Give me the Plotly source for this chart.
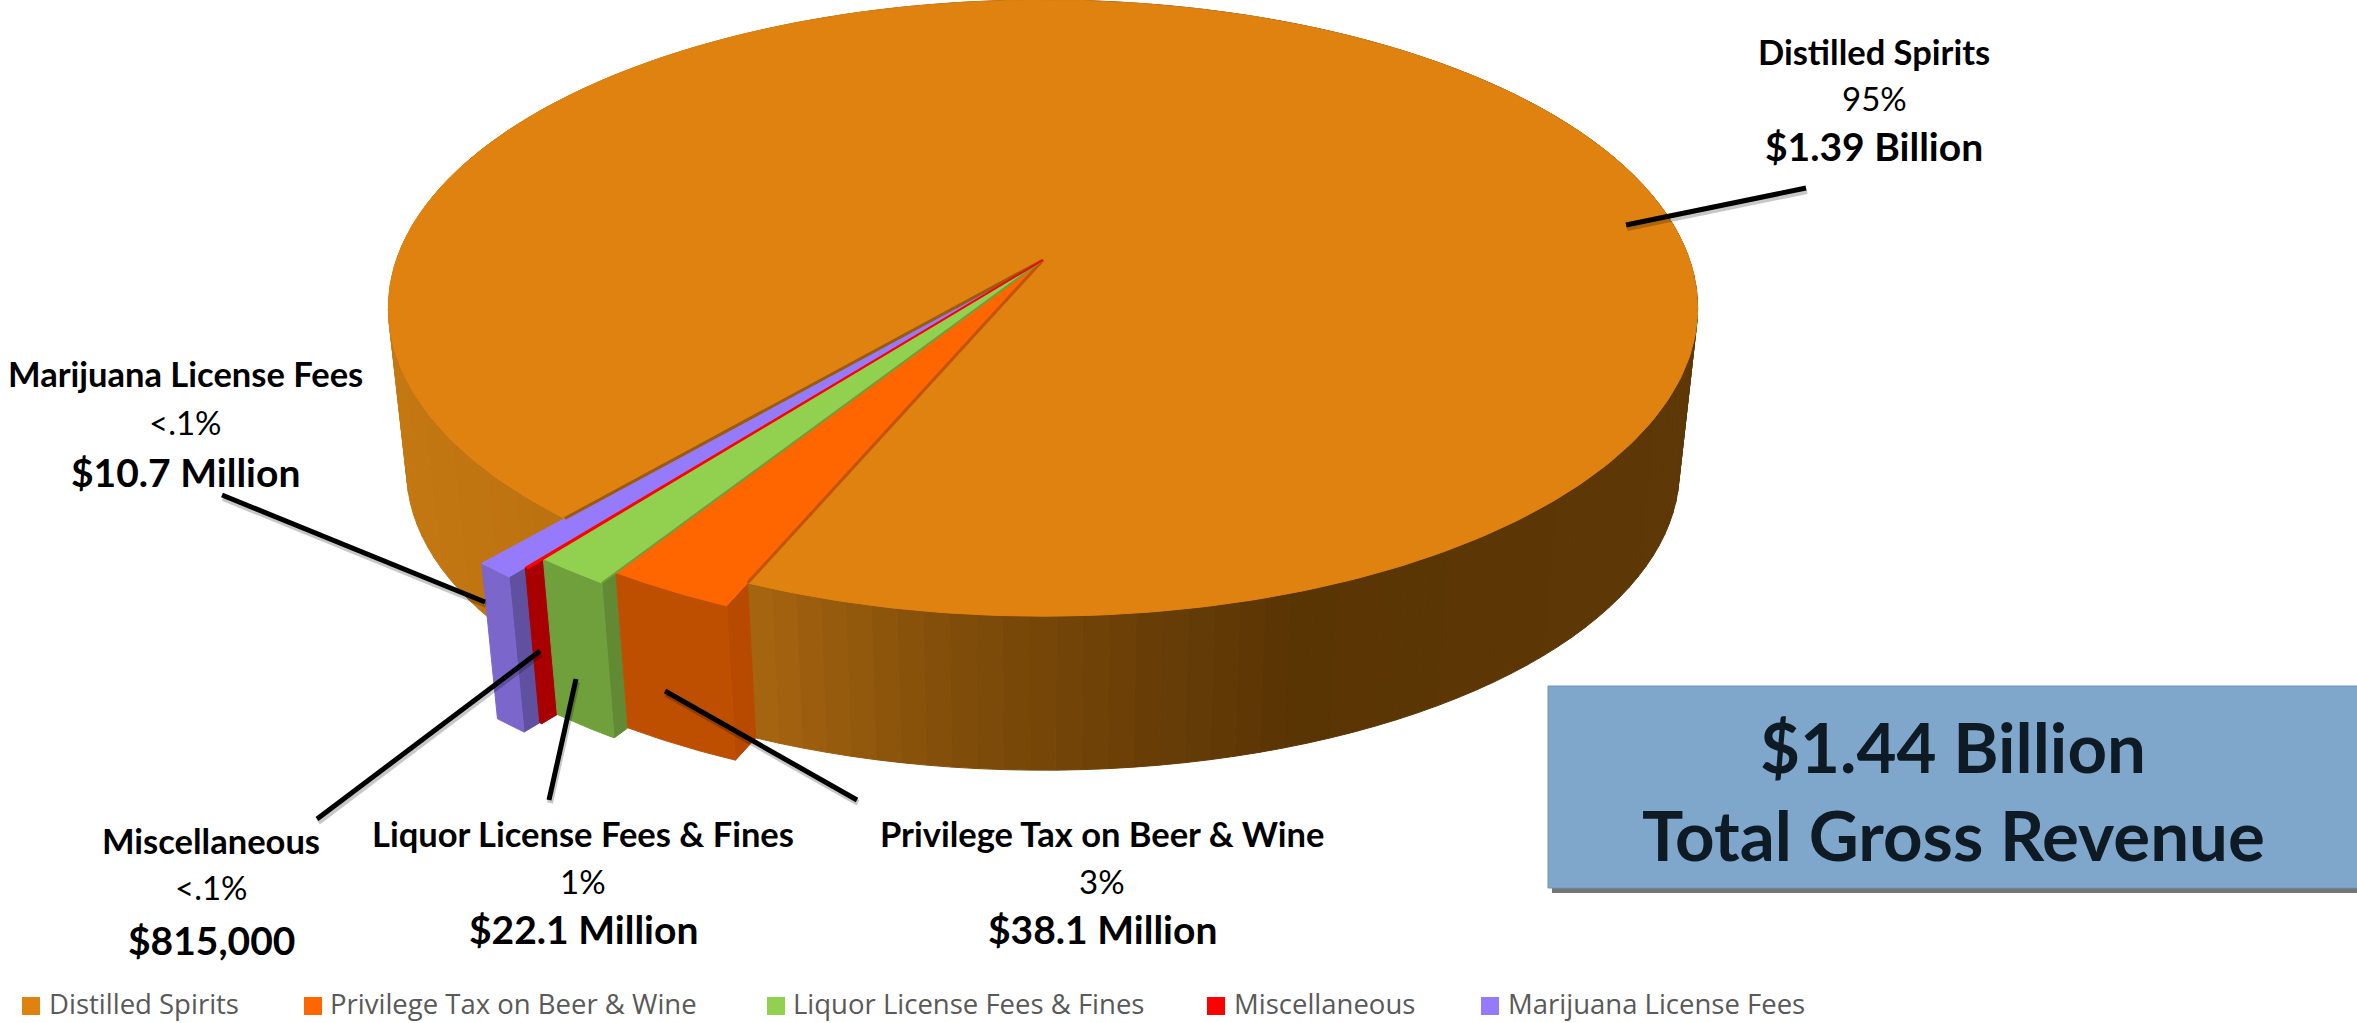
import math
import plotly.graph_objects as go

# ---------- data ----------
categories = ["Distilled Spirits", "Privilege Tax on Beer & Wine", "Liquor License Fees & Fines",
              "Miscellaneous", "Marijuana License Fees"]
revenue_millions = [1390, 38.1, 22.1, 0.815, 10.7]
percent_labels = ["95%", "3%", "1%", "<.1%", "<.1%"]
amount_labels = ["$1.39 Billion", "$38.1 Million", "$22.1 Million", "$815,000", "$10.7 Million"]
total_lines = ["$1.44 Billion", "Total Gross Revenue"]

# ---------- style / geometry ----------
W, H = 2357, 1023
explode = [1.0, 1.06, 1.09, 1.12, 1.15]
top_col = ["#E08210", "#FF6600", "#92D050", "#FF0000", "#957BFB"]
outer_col = [None, "#BF4F00", "#70A03C", "#A80000", "#7B66CC"]
wall_col = [None, "#B84A00", "#628A35", "#A80000", "#5F50A0"]
edge_col = ["#A8600E", "#C05400", "#6F9E3A", "#FF0000", "#7B66CC"]
START_DEG = 229.3
CX, CY_TOP, CY_BOT = 1043, 260, 424
A, B, P, BOT_SCALE = 646.6, 300.6, 0.156, 0.972
FONT = "Lato"


def project(r, deg, lower=False):
    X = r * math.cos(math.radians(deg))
    Y = r * math.sin(math.radians(deg))
    w = 1 + P * Y
    s = BOT_SCALE if lower else 1.0
    cy = CY_BOT if lower else CY_TOP
    return CX + s * A * X / w, cy - s * B * Y / w


def arc(r, a0, a1, lower=False, step=1.0):
    n = max(2, int(abs(a1 - a0) / step) + 2)
    return [project(r, a0 + (a1 - a0) * i / (n - 1), lower) for i in range(n)]


def poly(points, color, line_width=1):
    xs = [p[0] for p in points] + [points[0][0]]
    ys = [p[1] for p in points] + [points[0][1]]
    return go.Scatter(x=xs, y=ys, mode="lines", fill="toself", fillcolor=color,
                      line=dict(color=color, width=line_width), hoverinfo="skip", showlegend=False)


def lerp_hex(stops, x):
    if x <= stops[0][0]:
        return stops[0][1]
    for (x0, c0), (x1, c1) in zip(stops, stops[1:]):
        if x <= x1:
            t = (x - x0) / (x1 - x0)
            a = [int(c0[i:i + 2], 16) for i in (1, 3, 5)]
            b = [int(c1[i:i + 2], 16) for i in (1, 3, 5)]
            return "#%02X%02X%02X" % tuple(round(u + (v - u) * t) for u, v in zip(a, b))
    return stops[-1][1]


rim_stops = [(390, "#C47812"), (560, "#BC7210"), (750, "#A8660F"), (960, "#7F4C0A"),
             (1280, "#5A3504"), (1700, "#5E3806")]

total = sum(revenue_millions)
spans = []
cur = START_DEG
for v in revenue_millions:
    nxt = cur - v / total * 360
    spans.append((cur, nxt))  # clockwise
    cur = nxt

fig = go.Figure()

# rim of the main slice
a0, a1 = spans[0]
n = int(abs(a1 - a0) / 2)
for i in range(n):
    d0 = a0 + (a1 - a0) * i / n
    d1 = a0 + (a1 - a0) * (i + 1) / n
    pts = arc(1, d0, d1) + arc(1, d1, d0, lower=True)
    mx = sum(p[0] for p in pts) / len(pts)
    fig.add_trace(poly(pts, lerp_hex(rim_stops, mx)))

# exploded small slices, far one first
apex_t = (CX, CY_TOP)
for i in (4, 3, 2, 1):
    d0, d1 = spans[i]  # d0 = right edge, d1 = left edge
    r = explode[i]
    r_in = explode[i - 1]
    fig.add_trace(poly([project(r_in, d0), project(r, d0), project(r, d0, True), project(r_in, d0, True)],
                       wall_col[i]))
    fig.add_trace(poly(arc(r, d0, d1, step=0.5) + arc(r, d1, d0, True, step=0.5), outer_col[i]))
    fig.add_trace(poly([apex_t] + arc(r, d0, d1, step=0.5), top_col[i]))

# top of the main slice
fig.add_trace(poly([apex_t] + arc(1, a0, a1), top_col[0]))

# thin darker edges along the slice cuts
for i, (deg, r) in enumerate([(spans[0][0], 1), (spans[0][1], 1)]):
    c0 = project(r, deg)
    fig.add_trace(go.Scatter(x=[CX, c0[0]], y=[CY_TOP, c0[1]], mode="lines",
                             line=dict(color=("#9A5A10" if i == 0 else "#C05400"), width=3),
                             hoverinfo="skip", showlegend=False))
for i in (2, 3):
    c0 = project(explode[i], spans[i][0])
    fig.add_trace(go.Scatter(x=[CX, c0[0]], y=[CY_TOP, c0[1]], mode="lines",
                             line=dict(color=edge_col[i], width=2),
                             hoverinfo="skip", showlegend=False))

# leader lines
leaders = [((1626, 225), (1806, 188)), ((222, 495), (485, 602)), ((540, 651), (317, 819)),
           ((576, 679), (549, 800)), ((665, 691), (857, 800))]
for p0, p1 in leaders:
    fig.add_trace(go.Scatter(x=[p0[0] + 1, p1[0] + 1], y=[p0[1] + 3, p1[1] + 3], mode="lines",
                             line=dict(color="rgba(0,0,0,0.22)", width=6),
                             hoverinfo="skip", showlegend=False))
    fig.add_trace(go.Scatter(x=[p0[0], p1[0]], y=[p0[1], p1[1]], mode="lines",
                             line=dict(color="#000000", width=5),
                             hoverinfo="skip", showlegend=False))

annotations = []


def text(x, y, s, size, bold=False, color="#000000", anchor="center", font=FONT):
    annotations.append(dict(x=x, y=y, xref="x", yref="y", text=f"<b>{s}</b>" if bold else s,
                            showarrow=False, xanchor=anchor, yanchor="middle",
                            font=dict(family=font, size=size, color=color)))


# slice labels: index -> centre x, three line y positions
label_pos = {0: (1874, 51, 98, 146), 4: (185, 373, 422, 472), 3: (211, 840, 887, 940),
             2: (583, 833, 881, 929), 1: (1102, 833, 881, 929)}
for i, (x, y0, y1, y2) in label_pos.items():
    text(x, y0, categories[i].replace("&", "&amp;"), 34.5, bold=True)
    text(x, y1, percent_labels[i].replace("<", "&lt;"), 33)
    text(x, y2, amount_labels[i], 39, bold=True)

# total box
box_shapes = [
    dict(type="rect", xref="x", yref="y", x0=1552, y0=692, x1=2370, y1=893,
         fillcolor="rgba(70,70,70,0.75)", line=dict(width=0), layer="below"),
    dict(type="rect", xref="x", yref="y", x0=1548, y0=686, x1=2370, y1=888,
         fillcolor="#7FA6CB", line=dict(color="#6E94B8", width=1), layer="below"),
]
text(1953, 746, total_lines[0], 69, bold=True, color="#0E1A24")
text(1953, 834, total_lines[1], 69, bold=True, color="#0E1A24")

# legend row
legend_swatch_x = [31, 313, 776, 1216, 1490]
legend_text_x = [47, 328, 791, 1232, 1506]
for i, name in enumerate(categories):
    fig.add_trace(go.Scatter(x=[legend_swatch_x[i]], y=[1006], mode="markers", name=name,
                             marker=dict(symbol="square", size=18, color=top_col[i]),
                             hoverinfo="skip", showlegend=False))
    text(legend_text_x[i], 1003, name.replace("&", "&amp;"), 27.5, color="#595959", anchor="left", font="Open Sans")

fig.update_layout(
    width=W, height=H, margin=dict(l=0, r=0, t=0, b=0), autosize=False,
    paper_bgcolor="#FFFFFF", plot_bgcolor="#FFFFFF", showlegend=False,
    shapes=box_shapes, annotations=annotations,
    xaxis=dict(range=[0, W], visible=False, fixedrange=True),
    yaxis=dict(range=[H, 0], visible=False, fixedrange=True),
)
fig.write_html("out.html", config={"displayModeBar": False},
               default_width=W, default_height=H,
               post_script="document.body.style.margin='0';document.documentElement.style.overflow='hidden';")
